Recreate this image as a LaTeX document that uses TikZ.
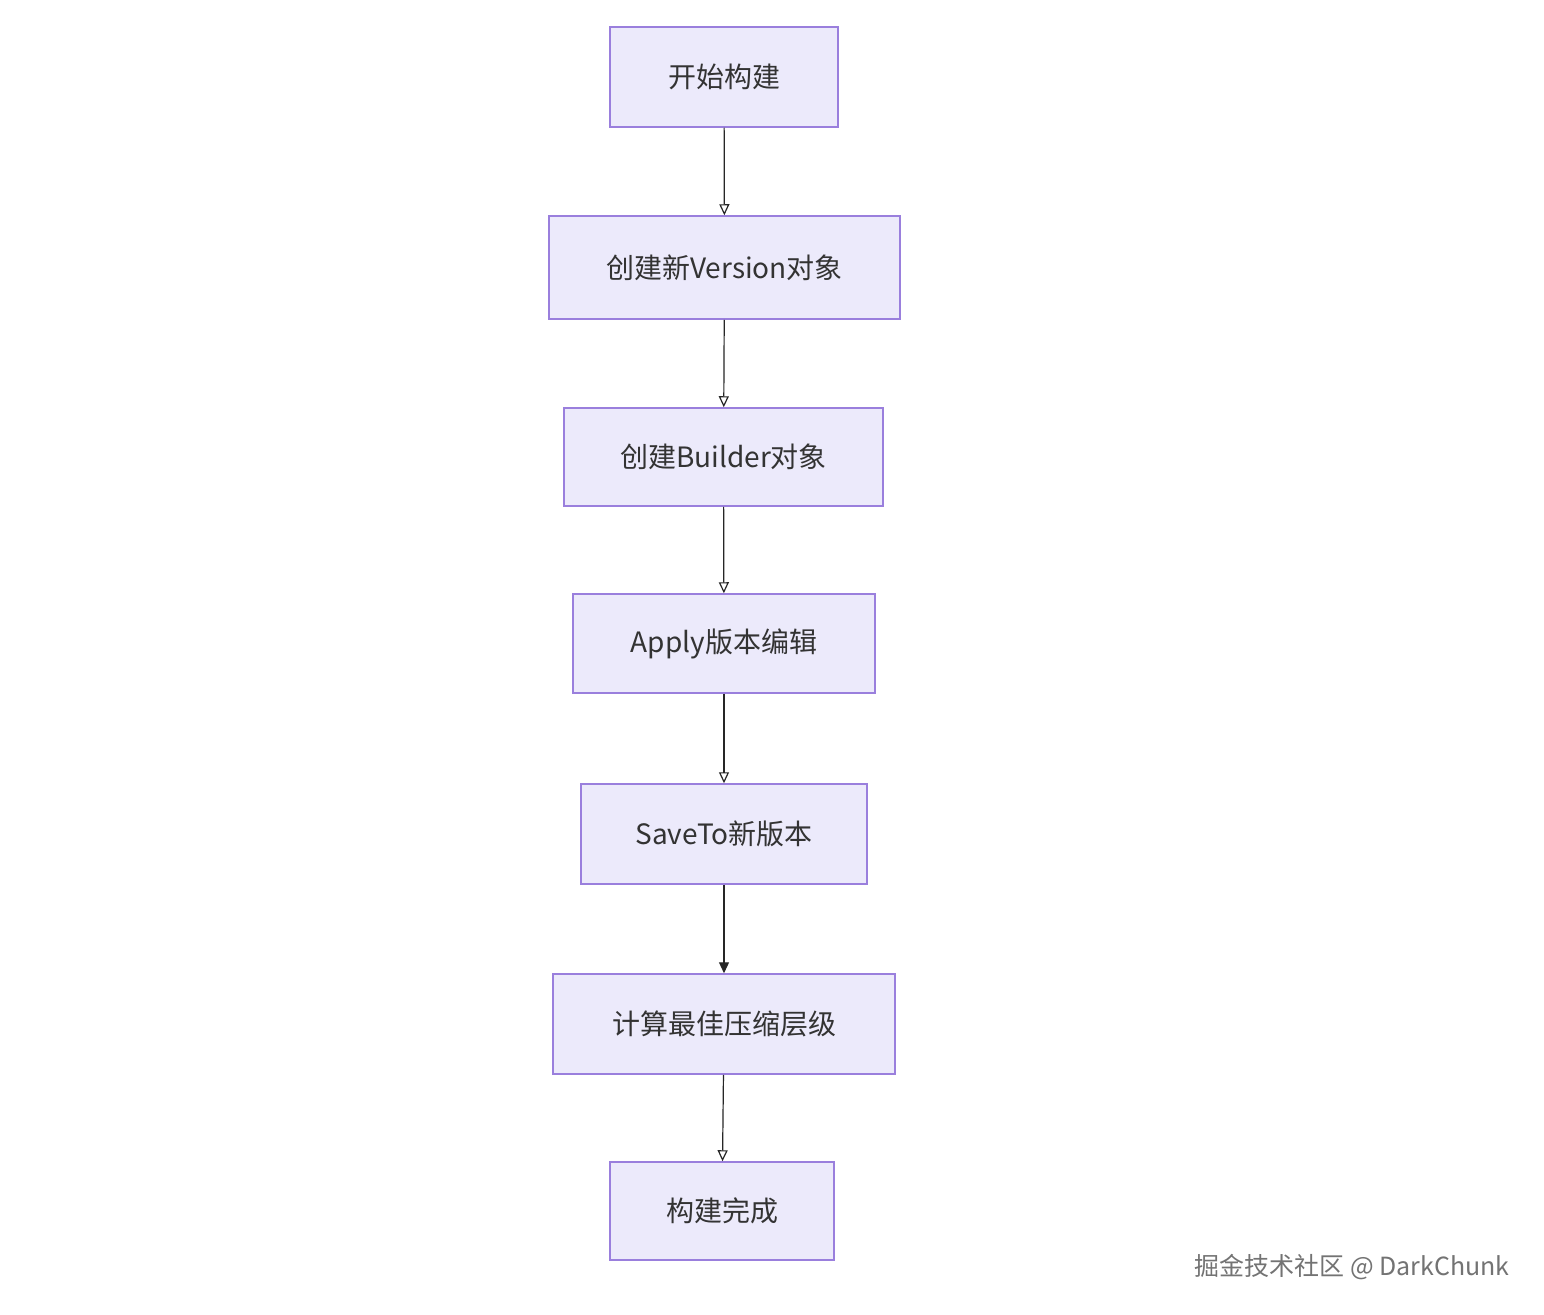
\documentclass[tikz,border=0pt]{standalone}
\usepackage{fontspec}
\setmainfont{Noto Sans CJK SC}
\usetikzlibrary{arrows.meta}
\definecolor{boxfill}{HTML}{ECEAFB}
\definecolor{boxdraw}{HTML}{9A7FDD}
\definecolor{txt}{HTML}{333333}
\tikzset{
  stepbox/.style={draw=boxdraw,fill=boxfill,line width=1.5pt,inner sep=0pt,text=txt,font=\fontsize{28}{32}\selectfont},
  conn/.style={draw=black!85,line width=1.2pt,-{Triangle[open,length=11pt,width=10pt]}},
  connf/.style={draw=black!85,line width=1.2pt,-{Triangle[length=11pt,width=10pt]}}
}
\begin{document}
\begin{tikzpicture}[x=1pt,y=-1pt]
\useasboundingbox[fill=white] (0,0) rectangle (1544,1314);
\node[stepbox,minimum width=228pt,minimum height=100pt] (a) at (724,77) {开始构建};
\node[stepbox,minimum width=351pt,minimum height=103pt] (b) at (724.5,267.5) {创建新Version对象};
\node[stepbox,minimum width=319pt,minimum height=98pt] (c) at (723.5,457) {创建Builder对象};
\node[stepbox,minimum width=302pt,minimum height=99pt] (d) at (724,643.5) {Apply版本编辑};
\node[stepbox,minimum width=286pt,minimum height=100pt] (e) at (724,834) {SaveTo新版本};
\node[stepbox,minimum width=342pt,minimum height=100pt] (f) at (724,1024) {计算最佳压缩层级};
\node[stepbox,minimum width=224pt,minimum height=98pt] (g) at (722,1211) {构建完成};
\draw[conn] (a) -- (b);
\draw[conn] (b) -- (c);
\draw[conn] (c) -- (d);
\draw[conn] (d) -- (e);
\draw[connf] (e) -- (f);
\draw[conn] (f) -- (g);
\node[text=black!55,font=\fontsize{25}{28}\selectfont] (w) at (1352,1267) {掘金技术社区 @ DarkChunk};
\end{tikzpicture}
\end{document}
